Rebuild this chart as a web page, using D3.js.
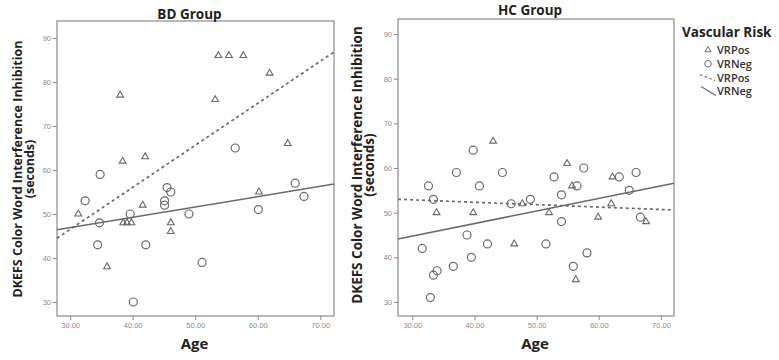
<!DOCTYPE html>
<html>
<head>
<meta charset="utf-8">
<script src="https://cdn.jsdelivr.net/npm/d3@7"></script>
<style>
  body { margin: 0; background: #fff; }
  svg { display: block; font-family: "Open Sans", "DejaVu Sans", sans-serif; }
  .tick text { fill: #8a8a8a; font-size: 7.5px; }
  .tick line { stroke: #8a8a8a; }
  .domain { display: none; }
</style>
</head>
<body>
<div id="chart"></div>
<script>
// BD group, [age, seconds]
const bdPos = [[31.3,50],[35.9,38],[38.0,77],[38.4,62],[38.5,48],[39.1,48],[39.8,48],[41.6,52],[42.0,63],
  [46.1,48],[46.1,46],[53.2,76],[53.7,86],[55.4,86],[57.7,86],[60.2,55],[61.9,82],[64.8,66]];
const bdNeg = [[32.4,53],[34.4,43],[34.7,48],[34.8,59],[39.6,50],[40.1,30],[42.1,43],[45.1,53],[45.1,52],
  [45.5,56],[46.1,55],[49.0,50],[51.1,39],[56.4,65],[60.1,51],[66.0,57],[67.4,54]];
// HC group
const hcPos = [[33.9,50],[39.8,50],[43.0,66],[46.4,43],[47.7,52],[52.0,50],[54.9,61],[55.7,56],[56.3,35],
  [59.9,49],[62.0,52],[62.2,58],[67.6,48]];
const hcNeg = [[31.6,42],[32.6,56],[32.9,31],[33.4,53],[33.4,36],[34.0,37],[36.6,38],[37.1,59],[38.8,45],
  [39.5,40],[39.8,64],[40.8,56],[42.1,43],[44.5,59],[45.9,52],[49.0,53],[51.5,43],[52.8,58],[54.0,54],
  [54.0,48],[55.9,38],[56.5,56],[57.6,60],[58.1,41],[63.3,58],[64.9,55],[66.0,59],[66.7,49]];
// fit lines, [age, seconds] at both ends
const bdPosFit = [[27.9,44.5],[72.2,86.8]];
const bdNegFit = [[27.9,46.4],[72.2,56.8]];
const hcPosFit = [[27.7,53.0],[72.1,50.6]];
const hcNegFit = [[27.7,44.1],[72.1,56.6]];

const xTicks = [30,40,50,60,70];
const yTicks = [30,40,50,60,70,80,90];
const legendItems = ['VRPos','VRNeg','VRPos','VRNeg'];

const grey = '#6a6a6a';

const svg = d3.select('#chart').append('svg')
  .attr('width', 779)
  .attr('height', 360);

const drawPanel = (p) => {
  const x = d3.scaleLinear().domain(p.xDomain).range([p.left, p.right]);
  const y = d3.scaleLinear().domain(p.yDomain).range([p.bottom, p.top]);
  const g = svg.append('g');

  g.append('g')
    .attr('transform', `translate(0,${p.bottom})`)
    .call(d3.axisBottom(x).tickValues(xTicks).tickSize(4).tickPadding(3).tickFormat(d3.format('.2f')));
  g.append('g')
    .attr('transform', `translate(${p.left},0)`)
    .call(d3.axisLeft(y).tickValues(yTicks).tickSize(4).tickPadding(2));

  g.append('rect')
    .attr('x', p.left).attr('y', p.top)
    .attr('width', p.right - p.left).attr('height', p.bottom - p.top)
    .attr('fill', 'none').attr('stroke', '#8a8a8a').attr('stroke-width', 1.2);

  const line = d3.line().x(d => x(d[0])).y(d => y(d[1]));
  g.append('path').attr('d', line(p.posFit))
    .attr('fill', 'none').attr('stroke', grey).attr('stroke-width', 1.7)
    .attr('stroke-dasharray', '3,3');
  g.append('path').attr('d', line(p.negFit))
    .attr('fill', 'none').attr('stroke', grey).attr('stroke-width', 1.5);

  g.selectAll('.neg').data(p.neg).enter().append('circle')
    .attr('class', 'neg')
    .attr('cx', d => x(d[0])).attr('cy', d => y(d[1])).attr('r', 4)
    .attr('fill', 'none').attr('stroke', grey).attr('stroke-width', 1.2);

  g.selectAll('.pos').data(p.pos).enter().append('path')
    .attr('class', 'pos')
    .attr('d', d3.symbol().type(d3.symbolTriangle).size(20))
    .attr('transform', d => `translate(${x(d[0])},${y(d[1])})`)
    .attr('fill', 'none').attr('stroke', grey).attr('stroke-width', 1.1);

  const cx = (p.left + p.right) / 2;
  g.append('text')
    .attr('x', cx - 6).attr('y', p.titleY)
    .attr('text-anchor', 'middle').attr('font-weight', 'bold').attr('font-size', 13.5)
    .attr('fill', '#222').text(p.title);
  g.append('text')
    .attr('x', cx - 1).attr('y', 349)
    .attr('text-anchor', 'middle').attr('font-weight', 'bold').attr('font-size', 15)
    .attr('fill', '#222').text('Age');

  const yl = g.append('text')
    .attr('transform', `translate(${p.labelX},${p.labelY}) rotate(-90)`)
    .attr('text-anchor', 'middle').attr('font-weight', 'bold').attr('font-size', p.labelSize)
    .attr('fill', '#222');
  yl.append('tspan').attr('x', 0).attr('dy', 0).text('DKEFS Color Word Interference Inhibition');
  yl.append('tspan').attr('x', 0).attr('dy', p.labelSize * 0.92).text('(seconds)');
};

drawPanel({
  title: 'BD Group', titleY: 19,
  left: 57, right: 334, top: 21, bottom: 316,
  xDomain: [27.9, 72.2], yDomain: [26.82, 93.86],
  pos: bdPos, neg: bdNeg, posFit: bdPosFit, negFit: bdNegFit,
  labelX: 22, labelY: 169, labelSize: 12.5
});

drawPanel({
  title: 'HC Group', titleY: 15,
  left: 398, right: 674, top: 19, bottom: 316,
  xDomain: [27.7, 72.1], yDomain: [26.87, 93.36],
  pos: hcPos, neg: hcNeg, posFit: hcPosFit, negFit: hcNegFit,
  labelX: 362, labelY: 165, labelSize: 13.5
});

// legend
const legend = svg.append('g');
legend.append('text')
  .attr('x', 682).attr('y', 37)
  .attr('font-weight', 'bold').attr('font-size', 13.5).attr('fill', '#222')
  .text('Vascular Risk');

const rows = legend.selectAll('.row').data(legendItems).enter().append('g')
  .attr('class', 'row')
  .attr('transform', (d, i) => `translate(0,${50 + i * 13.8})`);

rows.append('text')
  .attr('x', 717).attr('y', 4)
  .attr('font-size', 11).attr('font-weight', 600).attr('fill', '#333')
  .text(d => d);

rows.filter((d, i) => i === 0).append('path')
  .attr('d', d3.symbol().type(d3.symbolTriangle).size(16))
  .attr('transform', 'translate(708,0)')
  .attr('fill', 'none').attr('stroke', grey).attr('stroke-width', 1);
rows.filter((d, i) => i === 1).append('circle')
  .attr('cx', 708).attr('cy', 0).attr('r', 3.3)
  .attr('fill', 'none').attr('stroke', grey).attr('stroke-width', 1);
rows.filter((d, i) => i === 2).append('line')
  .attr('x1', 700).attr('y1', -3).attr('x2', 715).attr('y2', 3)
  .attr('stroke', grey).attr('stroke-width', 1.2).attr('stroke-dasharray', '2.5,2.5');
rows.filter((d, i) => i === 3).append('line')
  .attr('x1', 701).attr('y1', -5).attr('x2', 716).attr('y2', 4)
  .attr('stroke', grey).attr('stroke-width', 1.2);
</script>
</body>
</html>
